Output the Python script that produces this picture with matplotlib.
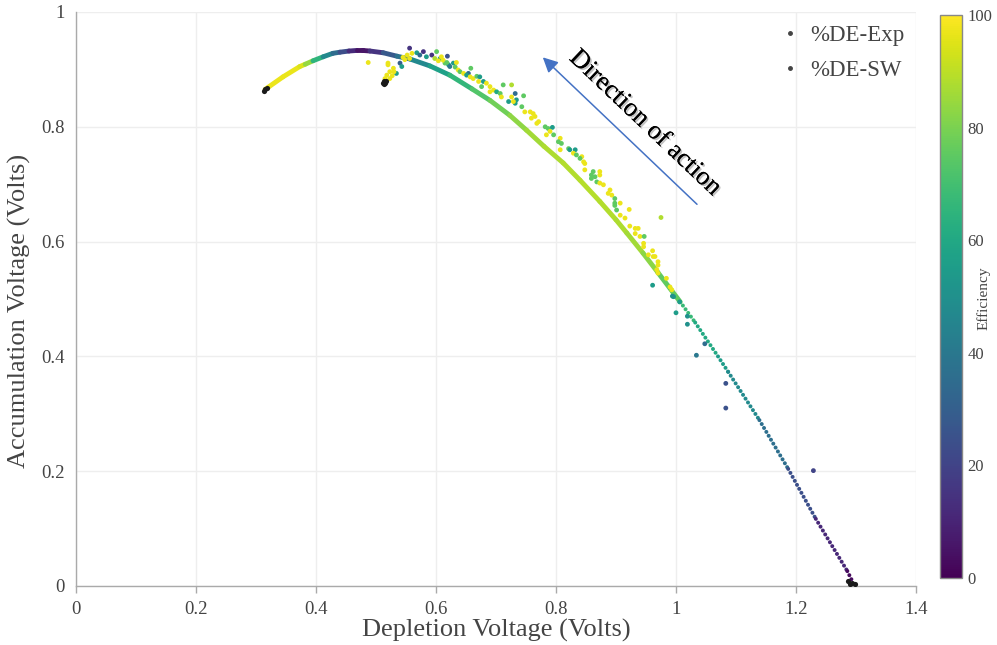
import numpy as np
import matplotlib
matplotlib.use("Agg")
import matplotlib.pyplot as plt
from matplotlib.collections import LineCollection
from matplotlib.lines import Line2D
from matplotlib import patheffects as pe

# ---------------- data ----------------
# %DE-SW curve (vertices) and efficiency at each vertex
sw_x = [0.315, 0.345, 0.373, 0.382, 0.395, 0.412, 0.428, 0.440, 0.455, 0.468,
        0.478, 0.490, 0.512, 0.535, 0.557, 0.590, 0.623, 0.660, 0.690, 0.723,
        0.751, 0.780, 0.812, 0.840, 0.873, 0.900, 0.918, 0.945, 0.970, 1.007,
        1.032, 1.070, 1.087, 1.139, 1.187, 1.233, 1.2855, 1.295]
sw_y = [0.865, 0.887, 0.905, 0.909, 0.915, 0.922, 0.928, 0.930, 0.932, 0.933,
        0.933, 0.932, 0.929, 0.923, 0.918, 0.906, 0.890, 0.866, 0.846, 0.820,
        0.794, 0.766, 0.737, 0.707, 0.670, 0.638, 0.615, 0.580, 0.546, 0.495,
        0.459, 0.400, 0.373, 0.289, 0.204, 0.117, 0.026, 0.006]
sw_eff = [97, 97, 96, 93, 75, 55, 40, 30, 17, 7,
          3, 8, 22, 33, 42, 52, 62, 70, 76, 81,
          85, 87, 88, 89, 89, 88, 87, 85, 80, 71,
          64, 57, 53, 42, 30, 18, 4, 2]

# %DE-Exp scattered measurements
exp_x = [0.487, 0.520, 0.556, 0.545, 0.552, 0.560, 0.548, 0.556, 0.520, 0.529,
         0.540, 0.543, 0.534, 0.523, 0.518, 0.515, 0.523, 0.527, 0.530, 0.568,
         0.573, 0.579, 0.601, 0.593, 0.584, 0.598, 0.607, 0.604, 0.615, 0.621,
         0.619, 0.609, 0.612, 0.618, 0.629, 0.634, 0.623, 0.632, 0.637, 0.640,
         0.646, 0.654, 0.658, 0.651, 0.657, 0.662, 0.668, 0.673, 0.671, 0.679,
         0.684, 0.676, 0.690, 0.712, 0.726, 0.696, 0.701, 0.690, 0.707, 0.709,
         0.721, 0.726, 0.732, 0.734, 0.732, 0.746, 0.729, 0.743, 0.748, 0.757,
         0.762, 0.765, 0.759, 0.771, 0.768, 0.782, 0.787, 0.794, 0.790, 0.784,
         0.796, 0.807, 0.804, 0.809, 0.807, 0.821, 0.823, 0.832, 0.829, 0.834,
         0.843, 0.840, 0.846, 0.848, 0.848, 0.862, 0.873, 0.859, 0.873, 0.865,
         0.859, 0.868, 0.873, 0.879, 0.890, 0.887, 0.893, 0.898, 0.898, 0.898,
         0.907, 0.901, 0.922, 0.907, 0.915, 0.923, 0.932, 0.975, 0.937, 0.932,
         0.940, 0.947, 0.946, 0.946, 0.961, 0.954, 0.962, 0.965, 0.970, 0.970,
         0.968, 0.961, 0.984, 0.990, 0.996, 0.993, 0.970, 0.994, 1.006, 1.000,
         1.019, 1.019, 1.048, 1.034, 1.083, 1.083, 1.229]
exp_y = [0.912, 0.911, 0.937, 0.921, 0.925, 0.928, 0.917, 0.919, 0.908, 0.902,
         0.911, 0.905, 0.893, 0.896, 0.890, 0.884, 0.884, 0.889, 0.896, 0.929,
         0.925, 0.931, 0.931, 0.925, 0.922, 0.919, 0.919, 0.915, 0.911, 0.908,
         0.923, 0.922, 0.916, 0.912, 0.911, 0.912, 0.905, 0.904, 0.899, 0.896,
         0.893, 0.893, 0.902, 0.890, 0.887, 0.884, 0.888, 0.887, 0.879, 0.879,
         0.876, 0.870, 0.870, 0.873, 0.873, 0.864, 0.861, 0.861, 0.858, 0.852,
         0.844, 0.852, 0.841, 0.847, 0.858, 0.854, 0.844, 0.835, 0.826, 0.826,
         0.823, 0.818, 0.815, 0.809, 0.806, 0.800, 0.797, 0.799, 0.792, 0.786,
         0.786, 0.780, 0.774, 0.771, 0.760, 0.762, 0.760, 0.760, 0.754, 0.751,
         0.748, 0.745, 0.739, 0.736, 0.725, 0.722, 0.722, 0.716, 0.716, 0.713,
         0.710, 0.704, 0.702, 0.699, 0.690, 0.684, 0.681, 0.675, 0.667, 0.663,
         0.667, 0.655, 0.656, 0.646, 0.641, 0.627, 0.623, 0.642, 0.623, 0.614,
         0.609, 0.609, 0.597, 0.591, 0.584, 0.577, 0.574, 0.574, 0.565, 0.559,
         0.551, 0.524, 0.536, 0.521, 0.504, 0.516, 0.545, 0.505, 0.495, 0.476,
         0.470, 0.456, 0.422, 0.402, 0.353, 0.310, 0.201]
exp_eff = [97, 97, 15, 97, 97, 97, 97, 97, 97, 97,
           30, 55, 55, 97, 97, 97, 97, 97, 97, 55,
           35, 15, 75, 15, 55, 88, 55, 97, 75, 55,
           25, 97, 97, 75, 55, 97, 40, 75, 97, 75,
           97, 35, 75, 55, 97, 97, 75, 55, 97, 55,
           97, 75, 97, 75, 88, 97, 60, 97, 75, 97,
           55, 97, 55, 55, 35, 75, 97, 75, 97, 97,
           97, 97, 97, 97, 97, 75, 75, 55, 97, 97,
           75, 97, 75, 75, 97, 75, 55, 55, 97, 75,
           97, 75, 97, 97, 97, 75, 97, 75, 97, 75,
           75, 75, 97, 97, 97, 97, 97, 75, 75, 75,
           97, 75, 97, 97, 97, 97, 97, 88, 97, 97,
           97, 75, 97, 97, 97, 97, 97, 97, 97, 97,
           97, 55, 97, 97, 55, 97, 97, 50, 55, 55,
           50, 50, 35, 40, 25, 25, 20]

# points without an efficiency value (drawn dark)
nan_x = [0.313, 0.315, 0.318, 0.512, 0.515, 0.513, 0.516, 0.514,
         1.287, 1.290, 1.293, 1.298]
nan_y = [0.863, 0.865, 0.868, 0.877, 0.877, 0.880, 0.879, 0.875,
         0.008, 0.003, 0.006, 0.003]

x_ticks = [0, 0.2, 0.4, 0.6, 0.8, 1, 1.2, 1.4]
y_ticks = [0, 0.2, 0.4, 0.6, 0.8, 1]
cb_ticks = [0, 20, 40, 60, 80, 100]

# ---------------- figure ----------------
W, H = 997, 645
fig = plt.figure(figsize=(W / 100, H / 100), dpi=100)
serif = "Liberation Serif"
grey = "#444444"

ax = fig.add_axes([76 / W, 1 - 586 / H, (916 - 76) / W, (586 - 12) / H])
ax.set_xlim(0, 1.4)
ax.set_ylim(0, 1)
cmap = plt.get_cmap("viridis")
norm = plt.Normalize(0, 100)

# SW curve
pts = np.column_stack([sw_x, sw_y])
segs = np.stack([pts[:-1], pts[1:]], axis=1)
seg_eff = (np.array(sw_eff[:-1]) + np.array(sw_eff[1:])) / 2
seg_x = np.array(sw_x[:-1])
solid = seg_x < 1.0
lc1 = LineCollection(segs[solid], colors=cmap(norm(seg_eff[solid])),
                     linewidths=3.5, capstyle="round", joinstyle="round",
                     zorder=3)
ax.add_collection(lc1)
lc2 = LineCollection(segs[~solid], colors=cmap(norm(seg_eff[~solid])),
                     linewidths=2.9, linestyles=[(0, (0.01, 1.12))],
                     capstyle="round", zorder=3)
ax.add_collection(lc2)

# Exp points
ax.scatter(exp_x, exp_y, c=exp_eff, cmap=cmap, norm=norm, s=12,
           linewidths=0, zorder=4)
ax.scatter(nan_x, nan_y, c="#1a1a1a", s=14, linewidths=0, zorder=5)

# axes style
ax.set_xticks(x_ticks)
ax.set_yticks(y_ticks)
ax.set_xticklabels([f"{t:g}" for t in x_ticks])
ax.set_yticklabels([f"{t:g}" for t in y_ticks])
ax.grid(True, color="#eeeeee", linewidth=1)
ax.set_axisbelow(True)
for s in ["top", "right"]:
    ax.spines[s].set_visible(False)
for s in ["left", "bottom"]:
    ax.spines[s].set_color("#aaaaaa")
    ax.spines[s].set_linewidth(1)
ax.tick_params(axis="x", length=5, width=1, color="#aaaaaa", labelsize=13.5,
               labelcolor=grey, pad=6)
ax.tick_params(axis="y", length=0, labelsize=13.5, labelcolor=grey, pad=8)
for lab in ax.get_xticklabels() + ax.get_yticklabels():
    lab.set_fontfamily(serif)

fig.text(496 / W, 1 - 630 / H, "Depletion Voltage (Volts)", ha="center",
         va="center", fontsize=19, family=serif, color=grey)
fig.text(19 / W, 1 - 311 / H, "Accumulation Voltage (Volts)", ha="center",
         va="center", rotation=90, fontsize=19, family=serif, color=grey)

# legend
handles = [Line2D([], [], marker="o", ls="", color=grey, markersize=2.5),
           Line2D([], [], marker="o", ls="", color=grey, markersize=2.5)]
leg = ax.legend(handles, ["%DE-Exp", "%DE-SW"], loc="upper right",
                bbox_to_anchor=(1.0, 0.998), frameon=False,
                prop={"family": serif, "size": 16.5}, labelcolor=grey,
                handletextpad=0.5, handlelength=0.8, borderaxespad=0.1,
                labelspacing=0.62)

# arrow and annotation
ax.annotate("", xy=(0.778, 0.921), xytext=(1.035, 0.665),
            arrowprops=dict(arrowstyle="-|>,head_length=0.9,head_width=0.45",
                            color="#4472C4", lw=1.1, shrinkA=0, shrinkB=0),
            zorder=6)
t = ax.text(0.948, 0.806, "Direction of action", rotation=-43.5,
            rotation_mode="anchor", ha="center", va="center", fontsize=19,
            family=serif, color="black", zorder=6)
t.set_path_effects([pe.withSimplePatchShadow(offset=(1.2, -1.2),
                                             shadow_rgbFace="#888888",
                                             alpha=0.5), pe.Normal()])

# colorbar
cax = fig.add_axes([940 / W, 1 - 578 / H, 22 / W, (578 - 15) / H])
sm = plt.cm.ScalarMappable(norm=norm, cmap=cmap)
cb = fig.colorbar(sm, cax=cax, ticks=cb_ticks)
cb.outline.set_edgecolor("#888888")
cb.outline.set_linewidth(1)
cax.tick_params(length=0, labelsize=12, labelcolor=grey, pad=4)
for lab in cax.get_yticklabels():
    lab.set_fontfamily(serif)
fig.text(984 / W, 1 - 298 / H, "Efficiency", rotation=90, ha="center",
         va="center", fontsize=11, family=serif, color=grey)

fig.savefig("out.png", dpi=100)
